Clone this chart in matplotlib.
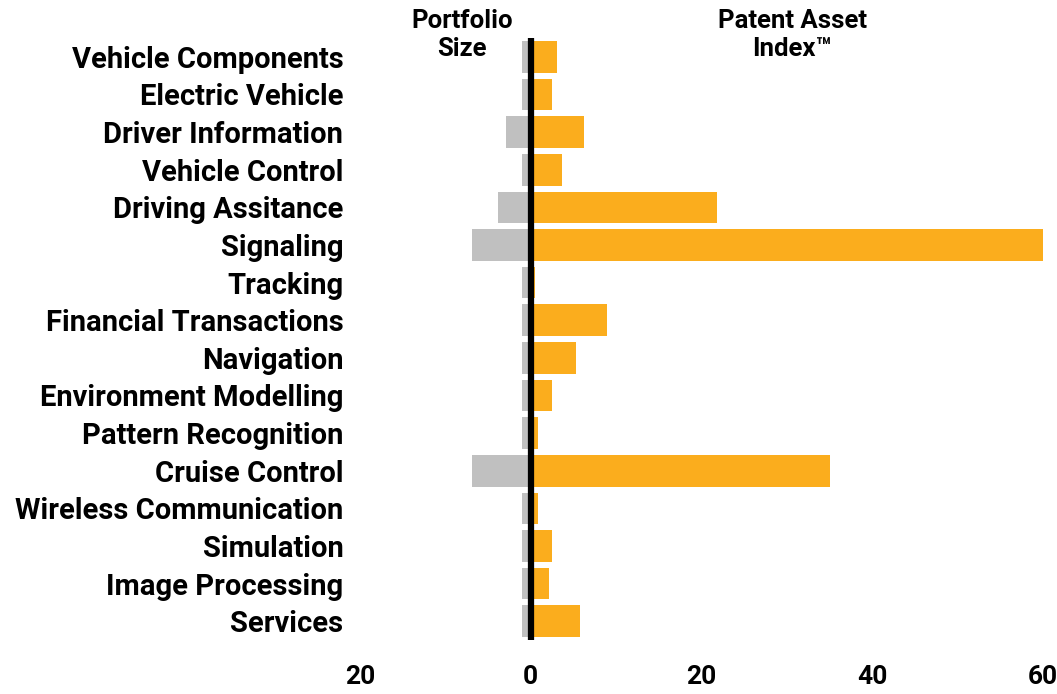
import matplotlib.pyplot as plt
import matplotlib.ticker as mticker

plt.rcParams['font.family'] = ['Roboto', 'DejaVu Sans']

categories = ["Vehicle Components", "Electric Vehicle", "Driver Information", "Vehicle Control",
              "Driving Assitance", "Signaling", "Tracking", "Financial Transactions", "Navigation",
              "Environment Modelling", "Pattern Recognition", "Cruise Control",
              "Wireless Communication", "Simulation", "Image Processing", "Services"]
portfolio_size = [1.0, 1.0, 2.9, 1.0, 3.8, 6.9, 1.0, 1.0, 1.0, 1.0, 1.0, 6.9, 1.0, 1.0, 1.0, 1.0]
patent_index = [3.1, 2.5, 6.2, 3.7, 21.8, 60.0, 0.5, 8.9, 5.3, 2.5, 0.9, 35.0, 0.9, 2.5, 2.1, 5.8]
xticks = [-20, 0, 20, 40, 60]

orange = "#FBAD1D"
gray = "#C0C0C0"

fig = plt.figure(figsize=(10.57, 6.94), dpi=100)
ax = fig.add_axes([0.3406, 0.0778, 0.6462, 0.8674])

pos = range(len(categories))
ax.barh(pos, [-v for v in portfolio_size], height=0.84, color=gray)
ax.barh(pos, patent_index, height=0.84, color=orange)
ax.axvline(0, color="black", lw=4.5)

ax.set_xlim(-20, 60)
ax.set_ylim(len(categories) - 0.5, -0.5)
ax.set_yticks(list(pos))
ax.set_yticklabels(categories, fontsize=21, fontweight="bold")
ax.set_xticks(xticks)
ax.xaxis.set_major_formatter(mticker.FuncFormatter(lambda v, p: f"{abs(v):.0f}"))
for lab in ax.get_xticklabels():
    lab.set_fontsize(19)
    lab.set_fontweight("bold")
ax.tick_params(axis="x", length=0, pad=18)
ax.tick_params(axis="y", length=0, pad=12)
for s in ax.spines.values():
    s.set_visible(False)

tr = ax.get_xaxis_transform()
ax.text(-8.05, 1.048, "Portfolio\nSize", transform=tr, ha="center", va="top",
        fontsize=18.5, fontweight="bold", linespacing=1.2)
ax.text(30.6, 1.048, "Patent Asset\nIndex\u2122", transform=tr, ha="center", va="top",
        fontsize=18.5, fontweight="bold", linespacing=1.2)

fig.savefig("out.png", dpi=100)
